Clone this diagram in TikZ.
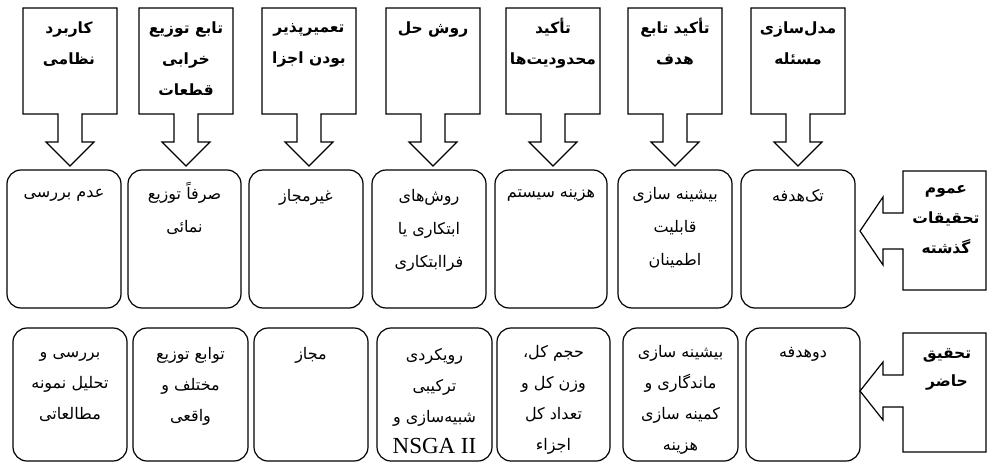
\documentclass[tikz,border=0pt]{standalone}
\usepackage{fontspec}
\TeXXeTstate=1
\newfontfamily\arabicfont[Script=Arabic]{DejaVu Sans}
\newfontfamily\latinserif{Liberation Serif}
\newcommand\ar[1]{\beginR #1\endR}
\tikzset{
  rbox/.style={draw, line width=1.2pt, rounded corners=14pt, inner sep=0pt},
  txt/.style={font=\arabicfont\fontsize{16}{33}\selectfont, align=center, anchor=north, inner sep=0pt},
  btxt/.style={font=\arabicfont\fontsize{16}{31}\selectfont, align=center, anchor=north, inner sep=0pt},
  htxt/.style={font=\arabicfont\bfseries\fontsize{15.5}{31}\selectfont, align=center, anchor=north, inner sep=0pt},
  callout/.style={draw, line width=1.2pt, line join=miter},
}
\newcommand\downcallout[1]{%
  \draw[callout] ({#1-47},8) -- ({#1+47},8) -- ({#1+47},114) -- ({#1+12},114) -- ({#1+12},142)
    -- ({#1+24},142) -- (#1,166) -- ({#1-24},142) -- ({#1-12},142) -- ({#1-12},114) -- ({#1-47},114) -- cycle;}
\newcommand\leftcallout[5]{% top, bottom, center, shaft half, head half
  \draw[callout] (903,#1) -- (986,#1) -- (986,#2) -- (903,#2) -- (903,{#3+#4}) -- (883,{#3+#4})
    -- (883,{#3+#5}) -- (860,#3) -- (883,{#3-#5}) -- (883,{#3-#4}) -- (903,{#3-#4}) -- cycle;}
\begin{document}
\begin{tikzpicture}[x=1pt,y=-1pt]
\useasboundingbox[fill=white] (0,0) rectangle (988,463);

% top callouts
\downcallout{70}
\downcallout{186}
\downcallout{309}
\downcallout{433}
\downcallout{553}
\downcallout{675}
\downcallout{798}
\node[htxt] (h1) at (69,22) {\ar{کاربرد}\\\ar{نظامی}};
\node[htxt] (h2) at (186,22) {\ar{تابع توزیع}\\\ar{خرابی}\\\ar{قطعات}};
\node[htxt] (h3) at (309,23) {\ar{تعمیرپذیر}\\\ar{بودن اجزا}};
\node[htxt] (h4) at (433,22) {\ar{روش حل}};
\node[htxt] (h5) at (553,18) {\ar{تأکید}\\\ar{محدودیت‌ها}};
\node[htxt] (h6) at (675,18) {\ar{تأکید تابع}\\\ar{هدف}};
\node[htxt] (h7) at (798,22) {\ar{مدل‌سازی}\\\ar{مسئله}};

% middle row
\node[rbox, minimum width=114pt, minimum height=138pt] (m1) at (64,239) {};
\node[rbox, minimum width=113pt, minimum height=138pt] (m2) at (184.5,239) {};
\node[rbox, minimum width=114pt, minimum height=138pt] (m3) at (306,239) {};
\node[rbox, minimum width=114pt, minimum height=138pt] (m4) at (429,239) {};
\node[rbox, minimum width=112pt, minimum height=138pt] (m5) at (551,239) {};
\node[rbox, minimum width=114pt, minimum height=138pt] (m6) at (675,239) {};
\node[rbox, minimum width=114pt, minimum height=138pt] (m7) at (798,239) {};
\node[txt] (m1t) at ([yshift=-20pt]m1.north) {\ar{عدم بررسی}};
\node[txt] (m2t) at ([yshift=-13pt]m2.north) {\ar{صرفاً توزیع}\\\ar{نمائی}};
\node[txt] (m3t) at ([yshift=-20pt]m3.north) {\ar{غیرمجاز}};
\node[txt] (m4t) at ([yshift=-20pt]m4.north) {\ar{روش‌های}\\\ar{ابتکاری یا}\\\ar{فراابتکاری}};
\node[txt] (m5t) at ([yshift=-20pt]m5.north) {\ar{هزینه سیستم}};
\node[txt] (m6t) at ([yshift=-18pt]m6.north) {\ar{بیشینه سازی}\\\ar{قابلیت}\\\ar{اطمینان}};
\node[txt] (m7t) at ([yshift=-20pt]m7.north) {\ar{تک‌هدفه}};

\leftcallout{171}{290}{231}{18}{34}
\node[htxt, font=\arabicfont\bfseries\fontsize{15.5}{30}\selectfont] (r1) at (946,185) {\ar{عموم}\\\ar{تحقیقات}\\\ar{گذشته}};

% bottom row
\node[rbox, minimum width=114pt, minimum height=133pt] (b1) at (70,394.5) {};
\node[rbox, minimum width=115pt, minimum height=133pt] (b2) at (190.5,394.5) {};
\node[rbox, minimum width=114pt, minimum height=133pt] (b3) at (311,394.5) {};
\node[rbox, minimum width=115pt, minimum height=133pt] (b4) at (434.5,394.5) {};
\node[rbox, minimum width=113pt, minimum height=133pt] (b5) at (553.5,394.5) {};
\node[rbox, minimum width=115pt, minimum height=133pt] (b6) at (680.5,394.5) {};
\node[rbox, minimum width=114pt, minimum height=133pt] (b7) at (803,394.5) {};
\node[btxt] (b1t) at ([yshift=-24pt]b1.north) {\ar{بررسی و}\\\ar{تحلیل نمونه}\\\ar{مطالعاتی}};
\node[btxt] (b2t) at ([yshift=-20pt]b2.north) {\ar{توابع توزیع}\\\ar{مختلف و}\\\ar{واقعی}};
\node[btxt] (b3t) at ([yshift=-20pt]b3.north) {\ar{مجاز}};
\node[btxt] (b4t) at ([yshift=-21pt]b4.north) {\ar{رویکردی}\\\ar{ترکیبی}\\\ar{شبیه‌سازی و}\\{\latinserif\fontsize{23}{31}\selectfont NSGA II}};
\node[btxt] (b5t) at ([yshift=-18pt]b5.north) {\ar{حجم کل،}\\\ar{وزن کل و}\\\ar{تعداد کل}\\\ar{اجزاء}};
\node[btxt] (b6t) at ([yshift=-18pt]b6.north) {\ar{بیشینه سازی}\\\ar{ماندگاری و}\\\ar{کمینه سازی}\\\ar{هزینه}};
\node[btxt] (b7t) at ([yshift=-20pt]b7.north) {\ar{دوهدفه}};

\leftcallout{333}{452}{391}{16}{29}
\node[htxt, font=\arabicfont\bfseries\fontsize{15.5}{28}\selectfont] (r2) at (947,348) {\ar{تحقیق}\\\ar{حاضر}};
\end{tikzpicture}
\end{document}
